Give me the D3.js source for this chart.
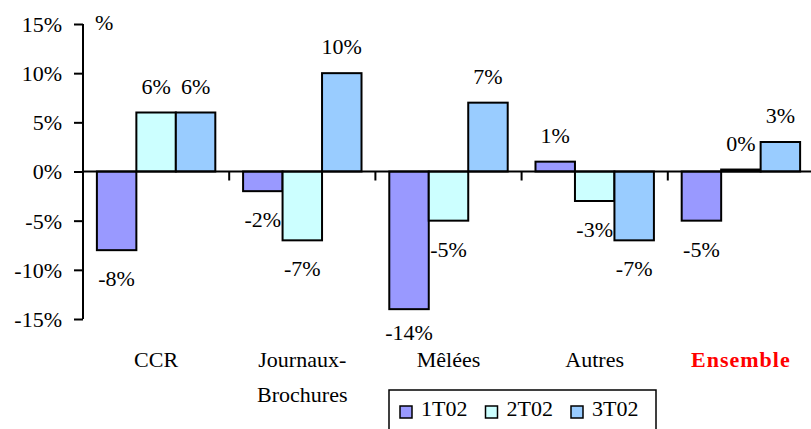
<!DOCTYPE html>
<html>
<head>
<meta charset="utf-8">
<script src="https://cdn.jsdelivr.net/npm/d3@7"></script>
<style>
  body { margin: 0; background: #fff; }
</style>
</head>
<body>
<svg id="chart" width="811" height="429" font-family="'Liberation Serif', 'Times New Roman', Times, 'DejaVu Serif', serif"></svg>
<script>
const categories = ['CCR', 'Journaux-\nBrochures', 'Mêlées', 'Autres', 'Ensemble'];
const seriesNames = ['1T02', '2T02', '3T02'];
const s1T02 = [-8, -2, -14, 1, -5];
const s2T02 = [6, -7, -5, -3, 0.2];
const s3T02 = [6, 10, 7, -7, 3];
const yTicks = [-15, -10, -5, 0, 5, 10, 15];
const colors = ['#9999ff', '#ccffff', '#99ccff'];
const serif = "'Liberation Serif', 'Times New Roman', Times, 'DejaVu Serif', serif";
const fs = 22;

const svg = d3.select('#chart');
const seriesValues = [s1T02, s2T02, s3T02];

const y = d3.scaleLinear().domain([-15, 15]).range([319, 24]);
const x = d3.scaleBand()
  .domain(categories)
  .range([83, 814])
  .paddingInner(0.19)
  .paddingOuter(0.095);
const xs = d3.scaleBand()
  .domain(seriesNames)
  .range([0, x.bandwidth()]);

// y axis
const yAxis = svg.append('g')
  .attr('transform', 'translate(83,0)')
  .call(d3.axisLeft(y).tickValues(yTicks).tickSize(9).tickPadding(12)
    .tickFormat(d => d + '%'))
  .attr('font-family', serif)
  .attr('font-size', fs);
yAxis.select('.domain').attr('stroke', '#000').attr('stroke-width', 2).attr('d', 'M0,' + y(15) + 'V' + y(-15));
yAxis.selectAll('.tick line').attr('stroke', '#000').attr('stroke-width', 2);
yAxis.selectAll('.tick text')
  .attr('fill', '#000')
  .attr('dy', '0.34em');

svg.append('text')
  .attr('x', 95).attr('y', 30)
  .attr('font-size', fs)
  .text('%');

// bars
const groups = svg.append('g').selectAll('g')
  .data(seriesNames)
  .join('g')
  .attr('fill', (d, i) => colors[i]);

groups.selectAll('rect')
  .data((s, i) => categories.map((c, j) => ({ c, s, v: seriesValues[i][j] })))
  .join('rect')
  .attr('x', d => x(d.c) + xs(d.s))
  .attr('width', xs.bandwidth())
  .attr('y', d => y(Math.max(0, d.v)))
  .attr('height', d => Math.abs(y(d.v) - y(0)))
  .attr('stroke', '#000')
  .attr('stroke-width', 2);

// zero line
svg.append('line')
  .attr('x1', 83).attr('x2', 811)
  .attr('y1', y(0)).attr('y2', y(0))
  .attr('stroke', '#000').attr('stroke-width', 2);

// category tick marks
const bounds = categories.map(c => x(c) - x.step() * x.paddingOuter()).slice(1);
svg.append('g').selectAll('line')
  .data(bounds)
  .join('line')
  .attr('x1', d => d).attr('x2', d => d)
  .attr('y1', y(0)).attr('y2', y(0) + 9)
  .attr('stroke', '#000').attr('stroke-width', 2);

// value labels
groups.selectAll('text')
  .data((s, i) => categories.map((c, j) => ({ c, s, v: seriesValues[i][j] })))
  .join('text')
  .attr('x', d => x(d.c) + xs(d.s) + xs.bandwidth() / 2)
  .attr('y', d => d.v >= 0 ? y(d.v) - 19 : Math.min(y(d.v) + 36, 340))
  .attr('text-anchor', 'middle')
  .attr('font-size', fs)
  .attr('fill', '#000')
  .text(d => Math.round(d.v) + '%');

// category labels
const catLabels = svg.append('g').selectAll('text')
  .data(categories)
  .join('text')
  .attr('x', d => x(d) + x.bandwidth() / 2)
  .attr('y', 367)
  .attr('text-anchor', 'middle')
  .attr('font-size', fs)
  .attr('fill', d => d === 'Ensemble' ? '#ff0000' : '#000')
  .attr('font-weight', d => d === 'Ensemble' ? 'bold' : 'normal')
  .attr('letter-spacing', d => d === 'Ensemble' ? 1 : 0);
catLabels.selectAll('tspan')
  .data(d => d.split('\n'))
  .join('tspan')
  .attr('x', function () { return d3.select(this.parentNode).attr('x'); })
  .attr('dy', (d, i) => i === 0 ? 0 : 35)
  .text(d => d);

// legend
const legend = svg.append('g');
legend.append('rect')
  .attr('x', 389).attr('y', 390)
  .attr('width', 267).attr('height', 50)
  .attr('fill', '#fff').attr('stroke', '#000').attr('stroke-width', 1.5);
const items = legend.selectAll('g')
  .data(seriesNames)
  .join('g')
  .attr('transform', (d, i) => `translate(${400 + i * 85.5},0)`);
items.append('rect')
  .attr('x', 0).attr('y', 406)
  .attr('width', 12).attr('height', 12)
  .attr('fill', (d, i) => colors[i])
  .attr('stroke', '#000').attr('stroke-width', 1.5);
items.append('text')
  .attr('x', 21).attr('y', 416)
  .attr('font-size', fs)
  .text(d => d);
</script>
</body>
</html>
